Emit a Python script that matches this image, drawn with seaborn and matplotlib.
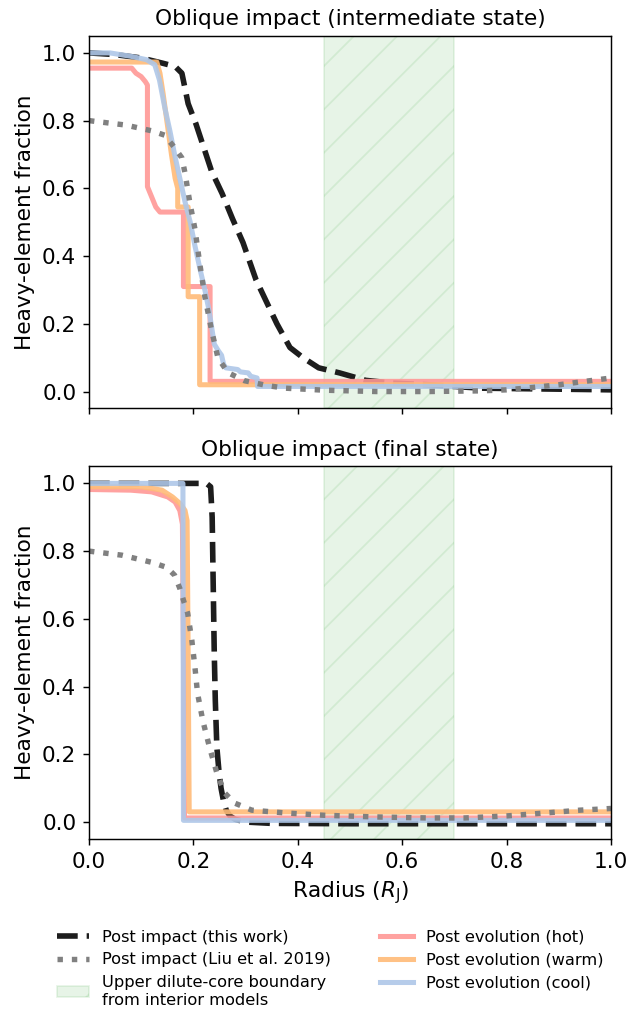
import matplotlib
matplotlib.use("Agg")
import matplotlib.pyplot as plt
import seaborn as sns

# ---------------- data: intermediate state (top panel) ----------------
int_black_r = [0, 0.05, 0.10, 0.14, 0.165, 0.178, 0.19, 0.205, 0.22, 0.235, 0.255, 0.275,
               0.295, 0.32, 0.34, 0.36, 0.385, 0.41, 0.44, 0.48, 0.53, 0.58, 0.65, 0.75, 0.85, 1.0]
int_black_v = [1.0, 0.995, 0.985, 0.97, 0.96, 0.94, 0.85, 0.79, 0.72, 0.65, 0.585, 0.51,
               0.44, 0.33, 0.265, 0.20, 0.13, 0.10, 0.07, 0.055, 0.033, 0.025, 0.02, 0.01, 0.008, 0.005]

int_liu_r = [0, 0.07, 0.12, 0.145, 0.164, 0.178, 0.184, 0.193, 0.203, 0.212, 0.222, 0.235, 0.247,
             0.266, 0.298, 0.34, 0.375, 0.45, 0.55, 0.65, 0.75, 0.8, 0.85, 0.9, 0.95, 1.0]
int_liu_v = [0.80, 0.787, 0.77, 0.757, 0.72, 0.69, 0.645, 0.56, 0.48, 0.38, 0.28, 0.18, 0.10,
             0.056, 0.032, 0.018, 0.01, 0.004, 0.0, 0.0, 0.002, 0.005, 0.012, 0.02, 0.03, 0.04]

int_hot_r = [0, 0.082, 0.09, 0.10, 0.108, 0.112, 0.112, 0.116, 0.12, 0.128, 0.136, 0.181, 0.181,
             0.232, 0.232, 1.0]
int_hot_v = [0.955, 0.955, 0.94, 0.93, 0.915, 0.905, 0.605, 0.59, 0.575, 0.545, 0.53, 0.53, 0.31,
             0.31, 0.03, 0.03]

int_warm_r = [0, 0.13, 0.136, 0.142, 0.15, 0.158, 0.165, 0.17, 0.17, 0.19, 0.19, 0.212, 0.212, 1.0]
int_warm_v = [0.973, 0.973, 0.94, 0.88, 0.79, 0.70, 0.63, 0.60, 0.545, 0.545, 0.28, 0.28, 0.02, 0.02]

int_cool_r = [0, 0.04, 0.08, 0.11, 0.126, 0.135, 0.145, 0.155, 0.164, 0.174, 0.184, 0.194, 0.203,
              0.213, 0.222, 0.23, 0.236, 0.24, 0.248, 0.254, 0.258, 0.262, 0.285, 0.29, 0.305,
              0.31, 0.322, 0.323, 1.0]
int_cool_v = [1.0, 1.0, 0.99, 0.98, 0.965, 0.92, 0.84, 0.77, 0.70, 0.63, 0.56, 0.50, 0.43,
              0.36, 0.30, 0.24, 0.18, 0.14, 0.12, 0.107, 0.08, 0.07, 0.065, 0.058, 0.055,
              0.045, 0.04, 0.015, 0.015]

# ---------------- data: final state (bottom panel) ----------------
fin_black_r = [0, 0.225, 0.233, 0.236, 0.238, 0.240, 0.242, 0.245, 0.249, 0.253, 0.258, 0.263,
               0.27, 0.28, 0.30, 0.35, 0.5, 1.0]
fin_black_v = [1.0, 1.0, 0.99, 0.90, 0.70, 0.50, 0.36, 0.22, 0.15, 0.10, 0.06, 0.035,
               0.018, 0.008, 0.0, -0.004, -0.005, -0.005]

fin_liu_r = [0, 0.063, 0.12, 0.149, 0.164, 0.174, 0.182, 0.189, 0.197, 0.203, 0.208, 0.218, 0.231,
             0.245, 0.26, 0.279, 0.312, 0.375, 0.45, 0.55, 0.65, 0.72, 0.8, 0.876, 0.94, 1.0]
fin_liu_v = [0.80, 0.788, 0.767, 0.752, 0.729, 0.69, 0.65, 0.617, 0.537, 0.457, 0.38, 0.30, 0.22,
             0.145, 0.086, 0.056, 0.035, 0.027, 0.02, 0.015, 0.012, 0.012, 0.018, 0.027, 0.035, 0.04]

fin_hot_r = [0, 0.08, 0.12, 0.151, 0.165, 0.174, 0.179, 0.181, 0.183, 1.0]
fin_hot_v = [0.982, 0.98, 0.975, 0.96, 0.945, 0.92, 0.88, 0.5, 0.012, 0.012]

fin_warm_r = [0, 0.10, 0.14, 0.16, 0.175, 0.184, 0.188, 0.19, 0.192, 1.0]
fin_warm_v = [0.99, 0.99, 0.98, 0.96, 0.94, 0.92, 0.89, 0.5, 0.03, 0.03]

fin_cool_r = [0, 0.18, 0.181, 1.0]
fin_cool_v = [1.0, 1.0, 0.005, 0.005]

span_lo, span_hi = 0.45, 0.70

titles = ["Oblique impact (intermediate state)", "Oblique impact (final state)"]
labels = ["Post impact (this work)", "Post impact (Liu et al. 2019)",
          "Upper dilute-core boundary\nfrom interior models",
          "Post evolution (hot)", "Post evolution (warm)", "Post evolution (cool)"]

# ---------------- plotting ----------------
plt.rcParams["font.size"] = 12
fig, (ax1, ax2) = plt.subplots(2, 1, figsize=(631 / 130, 1013 / 130), dpi=130, sharex=True)
fig.subplots_adjust(left=0.141, right=0.9683, top=0.9645, bottom=0.1718, hspace=0.1557)

c_hot, c_warm, c_cool = "#ff9896", "#ffbb78", "#aec7e8"

panels = [
    (ax1, int_black_r, int_black_v, int_liu_r, int_liu_v, int_hot_r, int_hot_v,
     int_warm_r, int_warm_v, int_cool_r, int_cool_v),
    (ax2, fin_black_r, fin_black_v, fin_liu_r, fin_liu_v, fin_hot_r, fin_hot_v,
     fin_warm_r, fin_warm_v, fin_cool_r, fin_cool_v),
]

handles = {}
for i, (ax, br, bv, lr, lv, hr, hv, wr, wv, cr, cv) in enumerate(panels):
    ax.axvspan(span_lo, span_hi, facecolor="tab:green", edgecolor="tab:green",
               alpha=0.11, hatch="/", zorder=0, label=labels[2])
    sns.lineplot(x=br, y=bv, ax=ax, estimator=None, sort=False, color="#111111",
                 linestyle="--", linewidth=3.1, alpha=0.95, label=labels[0])
    sns.lineplot(x=hr, y=hv, ax=ax, estimator=None, sort=False, color=c_hot,
                 linewidth=2.8, alpha=0.9, label=labels[3])
    sns.lineplot(x=wr, y=wv, ax=ax, estimator=None, sort=False, color=c_warm,
                 linewidth=2.8, alpha=0.9, label=labels[4])
    sns.lineplot(x=cr, y=cv, ax=ax, estimator=None, sort=False, color=c_cool,
                 linewidth=2.8, alpha=0.9, label=labels[5])
    sns.lineplot(x=lr, y=lv, ax=ax, estimator=None, sort=False, color="#808080",
                 linestyle=":", linewidth=3.0, label=labels[1])
    if ax.get_legend() is not None:
        ax.get_legend().remove()
    ax.set_xlim(0, 1)
    ax.set_ylim(-0.05, 1.05)
    ax.set_xticks([0, 0.2, 0.4, 0.6, 0.8, 1.0])
    ax.set_yticks([0, 0.2, 0.4, 0.6, 0.8, 1.0])
    ax.set_ylabel("Heavy-element fraction")
    ax.set_title(titles[i], fontsize=12)
    if i == 1:
        h, l = ax.get_legend_handles_labels()
        handles = dict(zip(l, h))

ax1.set_xlabel("")
ax2.set_xlabel(r"Radius ($R_{\rm J}$)")

order = labels
fig.legend([handles[k] for k in order], order, loc="upper center",
           bbox_to_anchor=(0.523, 0.0967), ncol=2, frameon=False, fontsize=9,
           labelspacing=0.48, columnspacing=3.0)

fig.savefig("out.png", dpi=130)
